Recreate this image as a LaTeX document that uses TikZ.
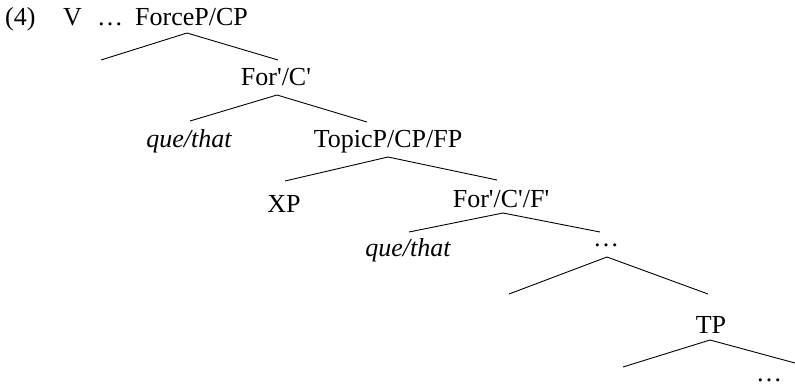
\documentclass[tikz,border=0pt]{standalone}
\usepackage{fontspec}
\setmainfont{Liberation Serif}
\newcommand{\sq}{\textquotesingle}
\begin{document}
\begin{tikzpicture}[x=1pt,y=-1pt,
  lbl/.style={anchor=base,inner sep=0pt,font=\fontsize{26}{30}\selectfont},
  lblw/.style={anchor=base west,inner sep=0pt,font=\fontsize{26}{30}\selectfont},
  branch/.style={line width=0.9pt,black}]
\useasboundingbox (0,0) rectangle (795,386);
% labels
\node[lblw] (ex) at (5,25) {(4)};
\node[lblw] (v) at (63,25) {V};
\node[lblw] (dots0) at (97,25) {…};
\node[lblw] (force) at (135,25) {ForceP/CP};
\node[lbl] (forc) at (276,85) {For\sq/C\sq};
\node[lbl] (que1) at (189,147) {\itshape que/that};
\node[lbl] (topic) at (388,147) {TopicP/CP/FP};
\node[lbl] (xp) at (284,212) {XP};
\node[lbl] (forcf) at (501,207) {For\sq/C\sq/F\sq};
\node[lbl] (que2) at (408,256) {\itshape que/that};
\node[lbl] (dots1) at (606,246) {…};
\node[lbl] (tp) at (711,333) {TP};
\node[lbl,text depth=0pt] (dots2) at (769,381) {…};
% branch points
\coordinate (a1) at (187,33);  \coordinate (l1) at (101,60);  \coordinate (r1) at (278,60);
\coordinate (a2) at (277,95);  \coordinate (l2) at (190,121); \coordinate (r2) at (367,122);
\coordinate (a3) at (388,157); \coordinate (l3) at (285,181); \coordinate (r3) at (497,180);
\coordinate (a4) at (503,213); \coordinate (l4) at (409,232); \coordinate (r4) at (600,232);
\coordinate (a5) at (607,257); \coordinate (l5) at (509,294); \coordinate (r5) at (708,294);
\coordinate (a6) at (710,340); \coordinate (l6) at (623,367); \coordinate (r6) at (795,363);
\draw[branch] (l1) -- (a1) -- (r1);
\draw[branch] (l2) -- (a2) -- (r2);
\draw[branch] (l3) -- (a3) -- (r3);
\draw[branch] (l4) -- (a4) -- (r4);
\draw[branch] (l5) -- (a5) -- (r5);
\draw[branch] (l6) -- (a6) -- (r6);
\end{tikzpicture}
\end{document}
